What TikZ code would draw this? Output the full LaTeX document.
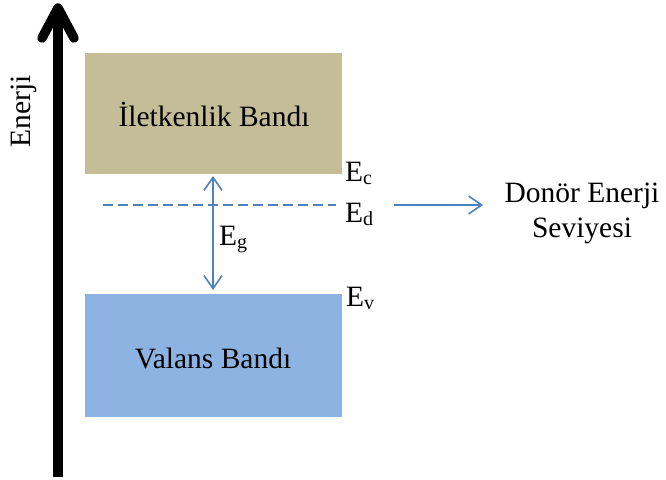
\documentclass[tikz,border=0pt]{standalone}
\usepackage{fontspec}
\setmainfont{Liberation Serif}
\usetikzlibrary{arrows.meta}
\definecolor{bandtan}{HTML}{C4BD97}
\definecolor{bandblue}{HTML}{8DB3E2}
\definecolor{lineblue}{HTML}{4F81BD}
% lowered, smaller index letter for the energy levels
\newcommand\lvlidx[1]{\raisebox{-3pt}{\fontsize{20}{20}\selectfont #1}}

\begin{document}
\begin{tikzpicture}[x=1pt,y=1pt,
  every node/.style={font=\fontsize{29.5}{34}\selectfont, inner sep=0pt},
  band/.style={draw=none, minimum width=257pt, anchor=north west},
  bluearrow/.style={draw=lineblue, line width=1.6pt,
    arrows={-Straight Barb[length=13pt,width=18pt]}},
  bluedouble/.style={draw=lineblue, line width=1.6pt,
    arrows={Straight Barb[length=13pt,width=18pt]-Straight Barb[length=13pt,width=18pt]}},
  axisline/.style={line width=9.5pt, black}]
\useasboundingbox (0,0) rectangle (666,-479);

% energy axis
\coordinate (axbot) at (58,-477);
\coordinate (axtip) at (58,-8);
\coordinate (axl) at (42,-38);
\coordinate (axr) at (74,-38);
\draw[axisline] (axbot) -- ([yshift=-3pt]axtip);
\draw[axisline, line cap=round, line join=round] (axl) -- (axtip) -- (axr);
\node[rotate=90, anchor=base] (energy) at (30,-111) {Enerji};

% bands
\node[band, fill=bandtan, minimum height=121pt] (cband) at (85,-53) {};
\node[band, fill=bandblue, minimum height=123pt] (vband) at (85,-294) {};
\node[anchor=base] (clabel) at (214,-126) {İletkenlik Bandı};
\node[anchor=base] (vlabel) at (213,-368) {Valans Bandı};

% level labels
\node[anchor=base west] (ec) at (345,-181) {E\lvlidx{c}};
\node[anchor=base west] (ed) at (345,-222) {E\lvlidx{d}};
\node[anchor=base west] (ev) at (346,-306) {E\lvlidx{v}};
\node[anchor=base west] (eg) at (219,-245) {E\lvlidx{g}};

% band gap
\coordinate (gtop) at (213,-176);
\coordinate (gbot) at (213,-290);
\draw[bluedouble] (gtop) -- (gbot);

% donor level
\coordinate (dstart) at (103,-205);
\coordinate (dend) at (336,-205);
\draw[draw=lineblue, line width=1.6pt, dash pattern=on 10pt off 5pt] (dstart) -- (dend);

\node[anchor=base] (donor) at (582,-202) {Donör Enerji};
\node[anchor=base] (donor2) at (582,-237) {Seviyesi};
\coordinate (pstart) at (394,-205);
\coordinate (pend) at (483,-205);
\draw[bluearrow] (pstart) -- (pend);
\end{tikzpicture}
\end{document}
